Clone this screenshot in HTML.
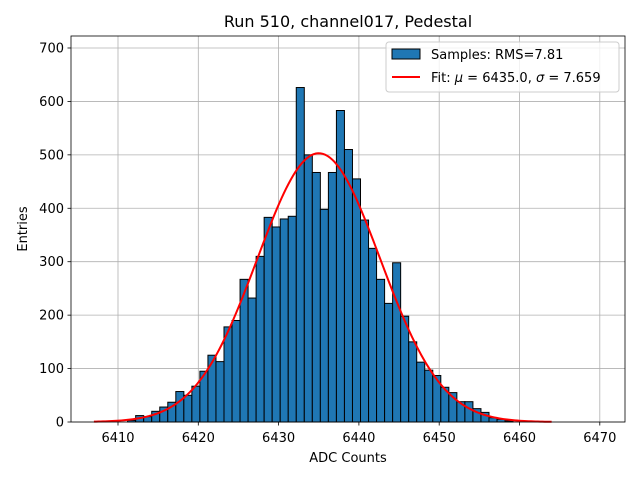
<!DOCTYPE html>
<html><head><meta charset="utf-8"><style>
body{margin:0;background:#fff}
svg{display:block;font-family:"DejaVu Sans","Liberation Sans",sans-serif}
</style></head><body>
<svg id="chart" width="640" height="480" xmlns="http://www.w3.org/2000/svg">
<rect width="640" height="480" fill="#fff"/>
<g id="grid"></g>
<g id="bars"></g>
<path id="fit" fill="none" stroke="#ff0000" stroke-width="2"/>
<rect x="71" y="36" width="554" height="386" fill="none" stroke="#000" stroke-width="0.8"/>
<g id="ticks" font-size="13" fill="#000"></g>
<text x="348" y="27" text-anchor="middle" font-size="16">Run 510, channel017, Pedestal</text>
<text x="348" y="462" text-anchor="middle" font-size="13">ADC Counts</text>
<text transform="translate(27,229) rotate(-90)" text-anchor="middle" font-size="13">Entries</text>
<g>
<rect x="386" y="42" width="233" height="50" rx="3" fill="#fff" fill-opacity="0.8" stroke="#ccc"/>
<rect x="392" y="49" width="28" height="10" fill="#1f77b4" stroke="#000"/>
<text x="431" y="59" font-size="13">Samples: RMS=7.81</text>
<line x1="392" y1="77" x2="420" y2="77" stroke="#ff0000" stroke-width="2"/>
<text x="431" y="82" font-size="13">Fit: <tspan font-style="italic">μ</tspan> = 6435.0, <tspan font-style="italic">σ</tspan> = 7.659</text>
</g>
</svg>
<script>
const binStarts=[6411.2,6412.2,6413.2,6414.2,6415.2,6416.2,6417.2,6418.2,6419.2,6420.2,6421.2,6422.2,6423.2,6424.2,6425.2,6426.2,6427.2,6428.2,6429.2,6430.2,6431.2,6432.2,6433.2,6434.2,6435.2,6436.2,6437.2,6438.2,6439.2,6440.2,6441.2,6442.2,6443.2,6444.2,6445.2,6446.2,6447.2,6448.2,6449.2,6450.2,6451.2,6452.2,6453.2,6454.2,6455.2,6456.2,6457.2,6458.2];
const counts=[3,12,10,20,28,37,57,50,67,95,125,113,178,190,267,232,310,383,365,380,385,626,500,467,398,467,583,510,455,378,325,267,222,298,198,150,112,97,87,65,55,38,38,25,18,8,5,2];
const xTicks=[6410,6420,6430,6440,6450,6460,6470];
const yTicks=[0,100,200,300,400,500,600,700];
const fitMu=6435.0, fitSigma=7.659, fitAmp=503, fitRange=[6407,6464];
const binWidth=1;
const X=v=>118+(v-6410)*8.03;
const Y=v=>422-v*0.5343;
const NS="http://www.w3.org/2000/svg";
const grid=document.getElementById('grid'),ticks=document.getElementById('ticks'),bars=document.getElementById('bars');
function mk(tag,attrs,parent){const e=document.createElementNS(NS,tag);for(const k in attrs)e.setAttribute(k,attrs[k]);parent.appendChild(e);return e;}
xTicks.forEach(t=>{
 const l=mk('line',{x1:X(t),x2:X(t),y1:36,y2:422,stroke:'#b0b0b0','stroke-width':0.8},grid);
 
 
 const k=mk('line',{x1:X(t),x2:X(t),y1:422,y2:425.5,stroke:'#000','stroke-width':0.8},ticks);
 
 
 const tx=mk('text',{x:X(t),y:442,'text-anchor':'middle'},ticks);tx.textContent=t;
 
 
});
yTicks.forEach(t=>{
 const l=mk('line',{x1:71,x2:625,y1:Y(t),y2:Y(t),stroke:'#b0b0b0','stroke-width':0.8},grid);
 
 
 const k=mk('line',{x1:67.5,x2:71,y1:Y(t),y2:Y(t),stroke:'#000','stroke-width':0.8},ticks);
 
 
 const tx=mk('text',{x:64,y:Y(t)+4.5,'text-anchor':'end'},ticks);tx.textContent=t;
 
 
});
binStarts.forEach((b,i)=>{
 const r=mk('rect',{x:X(b),y:Y(counts[i]),width:X(b+binWidth)-X(b),height:Y(0)-Y(counts[i]),fill:'#1f77b4',stroke:'#000','stroke-width':1},bars);
 
 
});
let d='';
for(let i=0;i<=200;i++){const v=fitRange[0]+(fitRange[1]-fitRange[0])*i/200;const y=fitAmp*Math.exp(-0.5*((v-fitMu)/fitSigma)**2);d+=(i?'L':'M')+X(v).toFixed(2)+','+Y(y).toFixed(2);}
document.getElementById('fit').setAttribute('d',d);
</script>
</body></html>
